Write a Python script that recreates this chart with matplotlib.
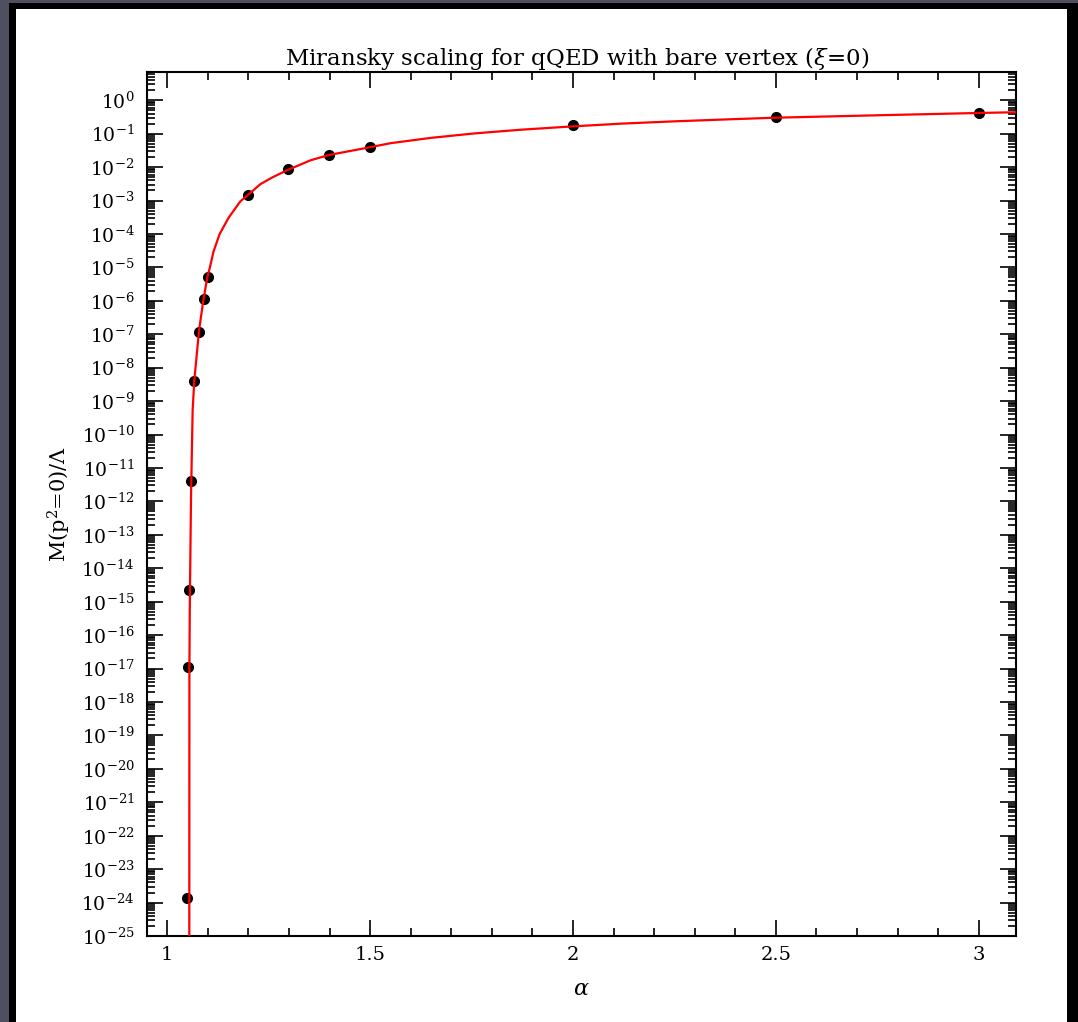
import matplotlib
matplotlib.use("Agg")
import matplotlib.pyplot as plt
from matplotlib.patches import Rectangle
from matplotlib.ticker import MultipleLocator, FixedLocator, LogLocator, FuncFormatter, NullFormatter
import numpy as np

plt.rcParams["mathtext.fontset"] = "dejavuserif"
plt.rcParams["font.family"] = "DejaVu Serif"

# Measured points: M(p^2=0)/Lambda vs alpha
alpha_pts = [1.049, 1.051, 1.054, 1.0585, 1.067, 1.078, 1.0895, 1.100,
             1.198, 1.297, 1.398, 1.499, 2.0, 2.5, 3.0]
mass_pts = [1.4e-24, 1.1e-17, 2.3e-15, 4.2e-12, 3.9e-9, 1.2e-7, 1.1e-6, 5.0e-6,
            1.5e-3, 8.9e-3, 2.3e-2, 4.1e-2, 0.18, 0.31, 0.41]

# Fit curve
alpha_fit = [1.0543, 1.0545, 1.0556, 1.0585, 1.0625, 1.0667, 1.0783, 1.0889,
             1.0988, 1.105, 1.114, 1.1291, 1.1514, 1.1802, 1.1983, 1.2296,
             1.26, 1.2956, 1.3531, 1.3983, 1.4931, 1.5506, 1.65, 1.758, 1.87,
             2.0015, 2.12, 2.25, 2.37, 2.496, 2.75, 3.0025, 3.099]
mass_fit = [1e-25, 1e-17, 1e-15, 1.3e-12, 5.4e-10, 4.3e-9, 1.3e-7, 1.05e-6,
            5.1e-6, 1.0e-5, 3.0e-5, 1.0e-4, 3.1e-4, 9.5e-4, 1.45e-3, 3.1e-3,
            5.0e-3, 8.1e-3, 1.6e-2, 2.3e-2, 3.8e-2, 5.2e-2, 7.5e-2, 0.102, 0.131,
            0.166, 0.20, 0.234, 0.265, 0.30, 0.355, 0.417, 0.44]

decades = np.arange(-25, 1)

W, H = 1078, 1022
fig = plt.figure(figsize=(W / 100, H / 100), dpi=100)
fig.patch.set_facecolor("#4e5060")
# black frame and white page
fig.patches.append(Rectangle((9 / W, 0), 1 - 9 / W, 1 - 3 / H, transform=fig.transFigure,
                             facecolor="black", edgecolor="none", zorder=-5))
fig.patches.append(Rectangle((16 / W, 0), (1067 - 16) / W, 1 - 9 / H, transform=fig.transFigure,
                             facecolor="white", edgecolor="none", zorder=-4))

ax = fig.add_axes([147 / W, (H - 936) / H, (1016 - 147) / W, (936 - 72) / H])

ax.plot(alpha_pts, mass_pts, "o", color="black", markersize=7, zorder=2)
ax.plot(alpha_fit, mass_fit, "-", color="red", linewidth=1.6, zorder=3)

ax.set_yscale("log")
ax.set_xlim(0.95, 3.092)
ax.set_ylim(1e-25, 7)

ax.xaxis.set_major_locator(MultipleLocator(0.5))
ax.xaxis.set_minor_locator(MultipleLocator(0.1))
ax.xaxis.set_major_formatter(FuncFormatter(lambda v, p: "%g" % v))

ax.yaxis.set_major_locator(FixedLocator(10.0 ** decades))
ax.yaxis.set_minor_locator(LogLocator(base=10, subs=np.arange(2, 10), numticks=300))
ax.yaxis.set_major_formatter(FuncFormatter(lambda v, p: "$\\mathregular{10^{%d}}$" % round(np.log10(v))))
ax.yaxis.set_minor_formatter(NullFormatter())

ax.tick_params(which="both", direction="in", top=True, right=True, width=1.2, color="black")
ax.tick_params(which="major", length=11.5)
ax.tick_params(which="minor", length=5.8)
ax.tick_params(axis="y", which="major", labelsize=13.5, pad=9)
ax.tick_params(axis="x", which="major", labelsize=14, pad=7)
for s in ax.spines.values():
    s.set_linewidth(1.5)

ax.set_title(r"Miransky scaling for qQED with bare vertex ($\xi$=0)",
             fontsize=16.5, pad=4, x=0.495)
ax.set_xlabel(r"$\alpha$", fontsize=16, labelpad=10)
ax.set_ylabel(r"M(p$^2$=0)/$\Lambda$", fontsize=15, labelpad=6)

fig.savefig("out.png", dpi=100, facecolor=fig.get_facecolor())
